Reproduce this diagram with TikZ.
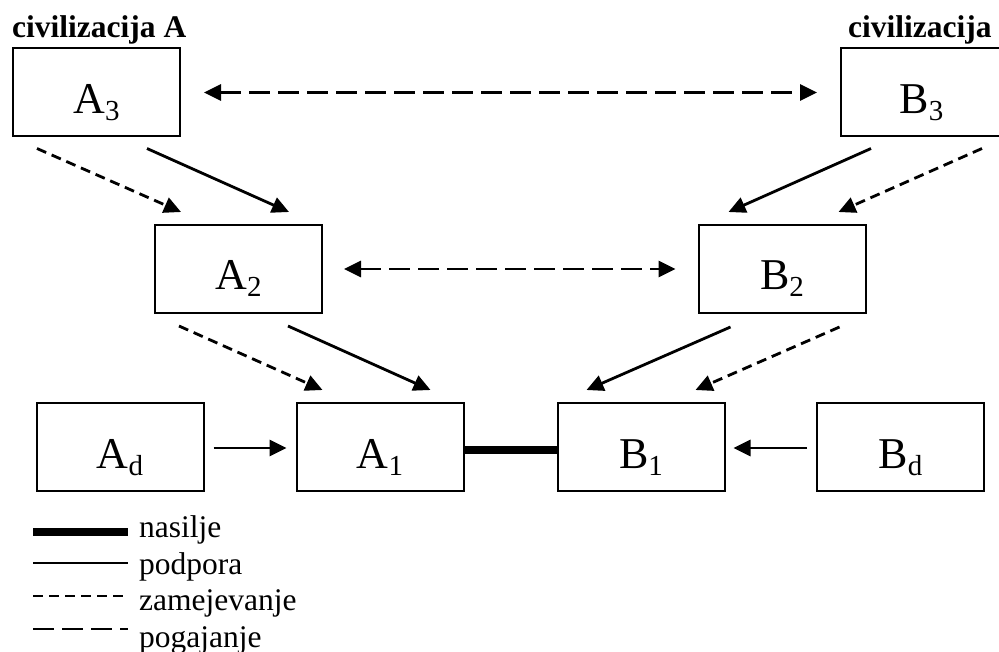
\documentclass[tikz,border=0pt]{standalone}
\usepackage{fontspec}
\setmainfont{Liberation Serif}
\usetikzlibrary{arrows.meta}
\newcommand{\boxlab}[2]{{\fontsize{44}{44}\selectfont #1\raisebox{-7pt}{\fontsize{29}{29}\selectfont #2}}}
\newcommand{\legtext}[1]{{\fontsize{31.5}{31.5}\selectfont #1}}
\newcommand{\titletext}[1]{{\fontsize{31.5}{31.5}\selectfont\bfseries #1}}
\tikzset{
  civbox/.style={draw, line width=2pt, minimum width=167pt, minimum height=88pt, inner sep=0pt},
  boxtext/.style={anchor=base, inner sep=0pt},
  tip/.style={-{Triangle[length=17pt,width=16pt]}},
  tips2/.style={{Triangle[length=17pt,width=16pt]}-{Triangle[length=17pt,width=16pt]}},
  sup/.style={line width=2.8pt},
  zam/.style={line width=2.8pt, dash pattern=on 10pt off 6pt},
  pog/.style={line width=2.8pt, dash pattern=on 21pt off 8pt},
  nas/.style={line width=7.5pt},
  legtx/.style={anchor=base west, inner sep=0pt},
}
\begin{document}
\begin{tikzpicture}[x=1pt,y=-1pt]
\useasboundingbox (0,0) rectangle (999,652);
\clip (0,0) rectangle (999,652);
% titles
\node[anchor=base west, inner sep=0pt] (tA) at (12,38) {\titletext{civilizacija A}};
\node[anchor=base west, inner sep=0pt] (tB) at (848,38) {\titletext{civilizacija}};
% boxes
\node[civbox] (A3) at (96.5,92.5) {};
\node[civbox] (B3) at (924.5,92.5) {};
\node[civbox] (A2) at (238.5,269) {};
\node[civbox] (B2) at (782,269) {};
\node[civbox] (Ad) at (120,447) {};
\node[civbox] (A1) at (380,447) {};
\node[civbox] (B1) at (641,447) {};
\node[civbox] (Bd) at (900.5,447) {};
% labels
\node[boxtext] (lA3) at ([yshift=-21pt]A3.center) {\boxlab{A}{3}};
\node[boxtext] (lB3) at ([yshift=-21pt,xshift=-3pt]B3.center) {\boxlab{B}{3}};
\node[boxtext] (lA2) at ([yshift=-21pt]A2.center) {\boxlab{A}{2}};
\node[boxtext] (lB2) at ([yshift=-21pt]B2.center) {\boxlab{B}{2}};
\node[boxtext] (lAd) at ([yshift=-21pt]Ad.center) {\boxlab{A}{d}};
\node[boxtext] (lA1) at ([yshift=-21pt]A1.center) {\boxlab{A}{1}};
\node[boxtext] (lB1) at ([yshift=-21pt]B1.center) {\boxlab{B}{1}};
\node[boxtext] (lBd) at ([yshift=-21pt]Bd.center) {\boxlab{B}{d}};
% negotiations
\draw[pog,tips2] ([xshift=23pt]A3.east) -- ([xshift=-23pt]B3.west);
\draw[pog,tips2] ([xshift=21pt]A2.east) -- ([xshift=-22pt]B2.west);
% level 3 -> 2
\draw[zam,tip] ([shift={(25,11)}]A3.south west) -- ([shift={(27,-12)}]A2.north west);
\draw[sup,tip] ([shift={(135,11)}]A3.south west) -- ([shift={(135,-12)}]A2.north west);
\draw[sup,tip] ([shift={(31,11)}]B3.south west) -- ([shift={(31,-12)}]B2.north west);
\draw[zam,tip] ([shift={(142,11)}]B3.south west) -- ([shift={(141,-12)}]B2.north west);
% level 2 -> 1
\draw[zam,tip] ([shift={(25,12)}]A2.south west) -- ([shift={(27,-12)}]A1.north west);
\draw[sup,tip] ([shift={(134,12)}]A2.south west) -- ([shift={(135,-12)}]A1.north west);
\draw[sup,tip] ([shift={(33,13)}]B2.south west) -- ([shift={(30,-12)}]B1.north west);
\draw[zam,tip] ([shift={(142,13)}]B2.south west) -- ([shift={(139,-12)}]B1.north west);
% diaspora
\draw[sup,tip] ([xshift=9pt,yshift=-1pt]Ad.east) -- ([xshift=-9pt,yshift=-1pt]A1.west);
\draw[sup,tip] ([xshift=-9pt,yshift=-1pt]Bd.west) -- ([xshift=8pt,yshift=-1pt]B1.east);
% violence
\draw[nas] ([yshift=-3pt]A1.east) -- ([yshift=-3pt]B1.west);
% legend
\coordinate (L1a) at (33,532); \coordinate (L1b) at (128,532);
\coordinate (L2a) at (33,563); \coordinate (L2b) at (128,563);
\coordinate (L3a) at (33,596); \coordinate (L3b) at (128,596);
\coordinate (L4a) at (33,629); \coordinate (L4b) at (128,629);
\draw[nas] (L1a) -- (L1b);
\draw[sup] (L2a) -- (L2b);
\draw[zam] (L3a) -- (L3b);
\draw[pog] (L4a) -- (L4b);
\node[legtx] (n1) at (139,537) {\legtext{nasilje}};
\node[legtx] (n2) at (139,574) {\legtext{podpora}};
\node[legtx] (n3) at (139,610) {\legtext{zamejevanje}};
\node[legtx] (n4) at (139,647) {\legtext{pogajanje}};
\end{tikzpicture}
\end{document}
